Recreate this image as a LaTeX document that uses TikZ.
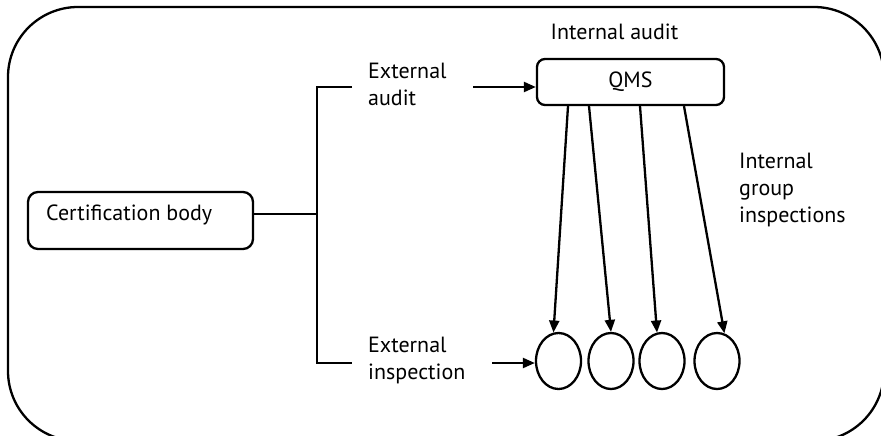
\documentclass[tikz,border=0pt]{standalone}
\usepackage{fontspec}
\setmainfont{PT Sans}
\usetikzlibrary{arrows.meta,shapes.geometric,calc}
\tikzset{
  lbl/.style={anchor=west,align=left,inner sep=0pt,font=\fontsize{22}{27}\selectfont},
  roundbox/.style={draw,line width=2.3pt,rounded corners=10pt,inner sep=0pt},
  member/.style={draw,ellipse,line width=2.3pt,minimum width=45pt,minimum height=56pt,inner sep=0pt},
  wire/.style={line width=2.3pt},
  flow/.style={line width=2.3pt,-{Triangle[length=12pt,width=10pt]}}
}
\begin{document}
\begin{tikzpicture}[x=1pt,y=-1pt]
\useasboundingbox (0,0) rectangle (881,436);
% outer frame, partly running off the page
\begin{scope}
\clip (0,0) rectangle (881,436);
\draw[line width=2.3pt,rounded corners=70pt] (8,7) rectangle (884,441);
\end{scope}

% certification body
\node[roundbox,minimum width=225pt,minimum height=57pt] (cb) at (140.5,220.5) {};
\node[lbl] (cbt) at (46,215) {Certification body};

% bracket splitting into the two external routes
\coordinate (fork) at (317,214);
\coordinate (top) at (317,87);
\coordinate (bot) at (317,363);
\coordinate (topend) at (352,87);
\coordinate (botend) at (352,363);
\draw[wire] (cb.east |- fork) -- (fork);
\draw[wire] (topend) -- (top) -- (bot) -- (botend);

\node[lbl] (ea) at (368,84) {External\\audit};
\node[lbl] (ei) at (368,360) {External\\inspection};

% quality management system
\node[roundbox,rounded corners=8pt,minimum width=187pt,minimum height=46pt,font=\fontsize{22}{27}\selectfont] (qms) at (630.5,82) {QMS};
\node[lbl,anchor=center] (ia) at (614.5,32) {Internal audit};

% group members
\node[member] (e1) at (558.5,361) {};
\node[member] (e2) at (611,361) {};
\node[member] (e3) at (662,361) {};
\node[member] (e4) at (717,361) {};

\node[lbl] (igi) at (739,189.5) {Internal\\group\\inspections};

% arrows
\coordinate (eastart) at (473,87);
\coordinate (eistart) at (492,363);
\draw[flow] (eastart) -- (qms.west |- eastart);
\draw[flow] (eistart) -- (e1.west |- eistart);
\draw[flow] ($(qms.south)+(-62.5,0)$) -- (e1.100);
\draw[flow] ($(qms.south)+(-41.5,0)$) -- (e2.90);
\draw[flow] ($(qms.south)+(9.5,0)$) -- (e3.100);
\draw[flow] ($(qms.south)+(53.5,0)$) -- (e4.75);
\end{tikzpicture}
\end{document}
